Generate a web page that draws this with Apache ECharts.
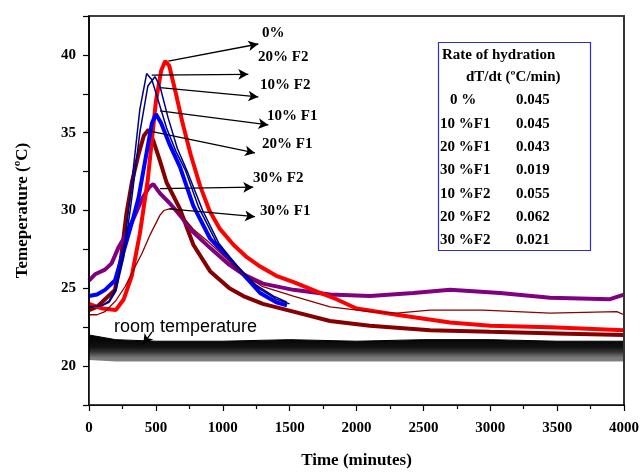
<!DOCTYPE html>
<html><head><meta charset="utf-8">
<script src="https://cdn.jsdelivr.net/npm/echarts@6/dist/echarts.min.js"></script>
<style>html,body{margin:0;padding:0;background:#fff}#c{width:642px;height:474px}</style>
</head><body><div id="c"></div>
<script>
// ---- data ----
const xTicks = [0, 500, 1000, 1500, 2000, 2500, 3000, 3500, 4000];
const yTicks = [20, 25, 30, 35, 40];

const t0 = [0, 100, 200, 260, 320, 380, 440, 500, 540, 570, 600, 650, 700, 760, 830, 900, 980, 1080, 1180, 1280, 1400, 1530, 1700, 1850, 2000, 2300, 2700, 3000, 3450, 4000];
const v0 = [24.0, 23.7, 23.6, 24.3, 25.8, 28.5, 32.0, 37.0, 39.0, 39.6, 39.3, 37.5, 35.6, 33.6, 31.6, 30.0, 28.8, 27.8, 27.0, 26.4, 25.8, 25.4, 24.8, 24.3, 23.7, 23.3, 22.8, 22.6, 22.5, 22.3];

const tF2_20 = [0, 100, 150, 200, 260, 320, 380, 431, 470, 520, 580, 650, 720, 820, 950, 1110, 1250, 1380, 1480];
const vF2_20 = [23.8, 23.9, 24.2, 25.0, 27.5, 31.8, 36.5, 38.8, 38.4, 37.0, 35.3, 33.8, 32.6, 30.2, 28.0, 26.4, 25.2, 24.5, 24.1];

const tF2_10 = [0, 100, 150, 200, 260, 320, 380, 440, 493, 530, 590, 660, 740, 850, 970, 1130, 1270, 1400, 1500];
const vF2_10 = [23.8, 23.9, 24.1, 24.8, 27.0, 30.8, 35.0, 38.0, 38.6, 38.0, 36.0, 34.0, 32.4, 30.0, 27.9, 26.2, 25.0, 24.3, 24.0];

const tF1_10 = [0, 60, 120, 194, 232, 280, 330, 370, 420, 470, 500, 540, 600, 680, 780, 905, 1079, 1279, 1400, 1480];
const vF1_10 = [24.5, 24.6, 24.9, 25.5, 26.6, 28.0, 29.5, 30.8, 33.2, 35.6, 36.2, 35.6, 34.3, 32.8, 30.3, 28.2, 26.6, 24.7, 24.1, 23.9];

const tF1_20 = [0, 60, 120, 194, 240, 280, 320, 370, 410, 445, 480, 530, 580, 680, 780, 905, 1050, 1154, 1300, 1528, 1802, 2100, 2550, 3000, 3500, 4000];
const vF1_20 = [23.6, 23.8, 24.3, 24.9, 27.0, 29.8, 31.8, 33.6, 34.8, 35.2, 34.5, 33.2, 31.8, 30.1, 27.8, 26.1, 25.0, 24.5, 24.0, 23.5, 22.9, 22.6, 22.3, 22.2, 22.1, 22.0];

const tF2_30 = [0, 45, 120, 169, 219, 280, 344, 400, 450, 481, 531, 600, 680, 780, 905, 1050, 1154, 1300, 1528, 1802, 2100, 2425, 2700, 3073, 3447, 3895, 4000];
const vF2_30 = [25.5, 25.9, 26.2, 26.6, 27.6, 28.5, 29.7, 30.8, 31.5, 31.7, 31.1, 30.5, 29.7, 28.6, 27.6, 26.5, 25.9, 25.3, 24.9, 24.6, 24.5, 24.7, 24.9, 24.7, 24.4, 24.3, 24.6];

const tF1_30 = [0, 60, 120, 200, 269, 340, 394, 460, 531, 560, 600, 640, 700, 780, 905, 1030, 1154, 1300, 1528, 1802, 2100, 2300, 2550, 2948, 3447, 3947, 4000];
const vF1_30 = [23.3, 23.3, 23.5, 24.2, 25.1, 26.3, 27.2, 28.5, 29.7, 30.0, 30.1, 30.1, 29.6, 28.8, 27.9, 26.9, 25.9, 25.1, 24.5, 23.8, 23.5, 23.4, 23.6, 23.6, 23.4, 23.5, 23.3];

const tRoom = [0, 200, 500, 1000, 1500, 2000, 2500, 3000, 3500, 4000];
const roomLow = [20.4, 20.3, 20.3, 20.3, 20.3, 20.3, 20.3, 20.3, 20.3, 20.3];
const roomHigh = [22.0, 21.7, 21.6, 21.6, 21.7, 21.6, 21.7, 21.7, 21.6, 21.6];

const labels = ['0%', '20% F2', '10% F2', '10% F1', '20% F1', '30% F2', '30% F1'];
const tableHead = ['Rate of hydration', 'dT/dt (\u00baC/min)'];
const tableNames = ['0 %', '10 %F1', '20 %F1', '30 %F1', '10 %F2', '20 %F2', '30 %F2'];
const tableRates = ['0.045', '0.045', '0.043', '0.019', '0.055', '0.062', '0.021'];

// annotation arrows [from t, from T, to t, to T]
const arrows = [
  [593, 39.6, 1266, 40.7],
  [469, 38.7, 1191, 38.75],
  [531, 37.9, 1266, 37.3],
  [531, 36.4, 1341, 35.5],
  [456, 35.1, 1241, 33.7],
  [531, 31.4, 1228, 31.5],
  [600, 30.1, 1241, 29.6]
];
// ---- chart ----
const zip = (a, b) => a.map((x, i) => [x, b[i]]);
const serif = 'Liberation Serif, Times New Roman, serif';
function line(name, t, v, color, w, z) {
  return { name, type: 'line', data: zip(t, v), showSymbol: false, symbol: 'none',
    lineStyle: { color, width: w }, z: z || 3 };
}

const chart = echarts.init(document.getElementById('c'), null, { renderer: 'canvas' });
const lblPos = [[262, 26], [258, 50], [260, 78], [267, 109], [262, 137], [253, 171], [260, 204]];
const graphics = labels.map((s, i) => ({ type: 'text', left: lblPos[i][0], top: lblPos[i][1],
  style: { text: s, font: 'bold 15px ' + serif, fill: '#000' }, z: 20 }));
graphics.push({ type: 'rect', shape: { x: 438.5, y: 42.5, width: 152, height: 208 },
  style: { fill: '#fff', stroke: '#2b2bd0', lineWidth: 1.2 }, z: 20 });
graphics.push({ type: 'text', left: 442, top: 48, style: { text: tableHead[0], font: 'bold 15px ' + serif, fill: '#000' }, z: 21 });
graphics.push({ type: 'text', left: 466, top: 70, style: { text: tableHead[1], font: 'bold 15px ' + serif, fill: '#000' }, z: 21 });
tableNames.forEach((s, i) => {
  graphics.push({ type: 'text', left: i === 0 ? 450 : 440, top: 93 + i * 23.3, style: { text: s, font: 'bold 15px ' + serif, fill: '#000' }, z: 21 });
  graphics.push({ type: 'text', left: 516, top: 93 + i * 23.3, style: { text: tableRates[i], font: 'bold 15px ' + serif, fill: '#000' }, z: 21 });
});
graphics.push({ type: 'text', left: 114, top: 318, style: { text: 'room temperature', font: '18px Liberation Sans, Arial, sans-serif', fill: '#000' }, z: 21 });

chart.setOption({
  animation: false,
  backgroundColor: '#fff',
  grid: { left: 89, right: 18, top: 16, bottom: 60, show: true, borderColor: '#000', borderWidth: 1.5, backgroundColor: '#fff' },
  xAxis: {
    type: 'value', min: 0, max: 4000, interval: 500, z: 10,
    name: 'Time (minutes)', nameLocation: 'middle', nameGap: 47,
    nameTextStyle: { fontFamily: serif, fontWeight: 'bold', fontSize: 17, color: '#000' },
    axisLine: { lineStyle: { color: '#000', width: 1.5 } },
    axisTick: { length: 6, lineStyle: { color: '#000', width: 1.2 } },
    minorTick: { show: true, splitNumber: 2, length: 4, lineStyle: { color: '#000', width: 1.2 } },
    splitLine: { show: false },
    axisLabel: { margin: 16, fontFamily: serif, fontWeight: 'bold', fontSize: 15, color: '#000',
      formatter: v => xTicks.includes(v) ? String(v) : '' }
  },
  yAxis: [{
    type: 'value', min: 17.5, max: 42.5, interval: 2.5, z: 10,
    name: 'Temeperature (\u00baC)', nameLocation: 'middle', nameGap: 58,
    nameTextStyle: { fontFamily: serif, fontWeight: 'bold', fontSize: 17, color: '#000' },
    axisLine: { lineStyle: { color: '#000', width: 1.5 } },
    axisTick: { length: 6, lineStyle: { color: '#000', width: 1.2 } },
    splitLine: { show: false },
    axisLabel: { margin: 13, fontFamily: serif, fontWeight: 'bold', fontSize: 15, color: '#000',
      formatter: v => yTicks.includes(v) ? String(v) : '' }
  }, {
    type: 'value', position: 'right', min: 17.5, max: 42.5, interval: 2.5, z: 10,
    axisLine: { show: true, lineStyle: { color: '#333', width: 2 } },
    axisTick: { show: false }, axisLabel: { show: false }, splitLine: { show: false }
  }],
  graphic: graphics,
  series: [
    { name: 'room temperature', type: 'line', data: zip(tRoom, roomHigh), symbol: 'none',
      lineStyle: { width: 1, color: '#000' }, z: 1,
      areaStyle: { origin: 'start', opacity: 1, color: { type: 'linear', x: 0, y: 0, x2: 0, y2: 1,
        colorStops: [{ offset: 0, color: '#000' }, { offset: 0.17, color: '#111' }, { offset: 0.24, color: '#333' }, { offset: 0.32, color: '#777' }, { offset: 1, color: '#fff' }] } } },
    { name: 'roomLow', type: 'line', data: zip(tRoom, roomLow), symbol: 'none',
      lineStyle: { width: 0, opacity: 0 }, z: 1,
      areaStyle: { origin: 'start', opacity: 1, color: '#fff' } },
    line('30% F1', tF1_30, vF1_30, '#8b0000', 1.3, 4),
    line('20% F1', tF1_20, vF1_20, '#850000', 4, 3),
    line('30% F2', tF2_30, vF2_30, '#800080', 4, 3),
    line('0%', t0, v0, '#ff0000', 4, 3),
    line('10% F1', tF1_10, vF1_10, '#0000ff', 4, 3),
    line('20% F2', tF2_20, vF2_20, '#000080', 1.5, 5),
    line('10% F2', tF2_10, vF2_10, '#000080', 1.5, 5),
    { name: 'arrows', type: 'line', data: [], z: 8,
      markLine: { silent: true, symbol: ['none', 'arrow'], symbolSize: [8, 10],
        lineStyle: { color: '#000', width: 1.3, type: 'solid' }, label: { show: false },
        data: arrows.map(a => [{ coord: [a[0], a[1]] }, { coord: [a[2], a[3]] }]).concat([
          [{ coord: [471, 22.2] }, { coord: [405, 21.4] }]
        ]) } }
  ]
});
</script></body></html>
